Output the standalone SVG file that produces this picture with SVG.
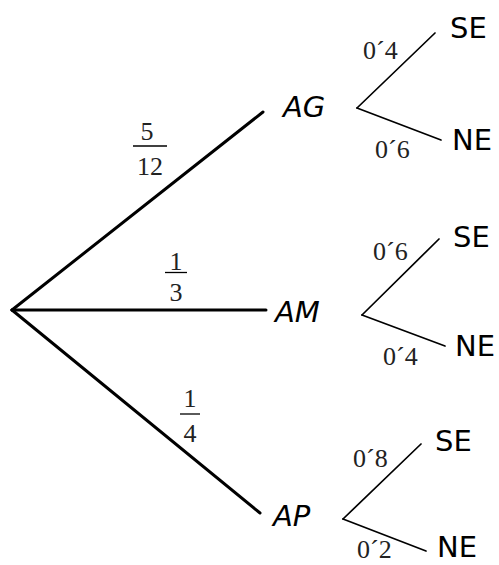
<svg xmlns="http://www.w3.org/2000/svg" width="499" height="565" viewBox="0 0 499 565">
<style>
.main{stroke:#000;stroke-width:3;fill:none;stroke-linecap:round}
.sub{stroke:#000;stroke-width:1.7;fill:none;stroke-linecap:round}
.bar{stroke:#000;stroke-width:1.3}
.node{font-family:"DejaVu Sans",sans-serif;font-size:29px;fill:#000}
.it{font-style:italic}
.num{font-family:"Liberation Serif","Times New Roman",serif;font-size:26px;fill:#222}
.frac{font-family:"Liberation Serif","Times New Roman",serif;font-size:26px;fill:#222;text-anchor:middle}
</style>
<rect width="499" height="565" fill="#fff"/>
<g id="connectors">
<line class="main" x1="12" y1="310" x2="263" y2="112"/>
<line class="main" x1="12" y1="310" x2="266" y2="310"/>
<line class="main" x1="12" y1="310" x2="260" y2="513"/>
<line class="sub" x1="357" y1="108" x2="435" y2="33"/>
<line class="sub" x1="357" y1="108" x2="441" y2="140"/>
<line class="sub" x1="362" y1="315" x2="439" y2="239"/>
<line class="sub" x1="362" y1="315" x2="445" y2="346"/>
<line class="sub" x1="343" y1="519" x2="421" y2="444"/>
<line class="sub" x1="343" y1="519" x2="426" y2="551"/>
</g>
<g id="edge-labels">
<g id="p-AG"><text class="frac" x="147" y="140">5</text><line class="bar" x1="133" y1="146" x2="167" y2="146"/><text class="frac" x="150" y="175">12</text></g>
<g id="p-AM"><text class="frac" x="176" y="270">1</text><line class="bar" x1="165" y1="272.5" x2="187" y2="272.5"/><text class="frac" x="176" y="301">3</text></g>
<g id="p-AP"><text class="frac" x="190" y="407">1</text><line class="bar" x1="180" y1="414" x2="200" y2="414"/><text class="frac" x="190" y="442">4</text></g>
<text class="num" x="363" y="59">0´4</text>
<text class="num" x="375" y="158">0´6</text>
<text class="num" x="373" y="260">0´6</text>
<text class="num" x="383" y="365">0´4</text>
<text class="num" x="353" y="467">0´8</text>
<text class="num" x="357" y="558">0´2</text>
</g>
<g id="AG"><text class="node it" x="283" y="117">AG</text></g>
<g id="AM"><text class="node it" x="275" y="322">AM</text></g>
<g id="AP"><text class="node it" x="273" y="526">AP</text></g>
<g id="AG-SE"><text class="node" x="450" y="38">SE</text></g>
<g id="AG-NE"><text class="node" x="452" y="150">NE</text></g>
<g id="AM-SE"><text class="node" x="453" y="247">SE</text></g>
<g id="AM-NE"><text class="node" x="455" y="356">NE</text></g>
<g id="AP-SE"><text class="node" x="435" y="451">SE</text></g>
<g id="AP-NE"><text class="node" x="437" y="557">NE</text></g>
</svg>
